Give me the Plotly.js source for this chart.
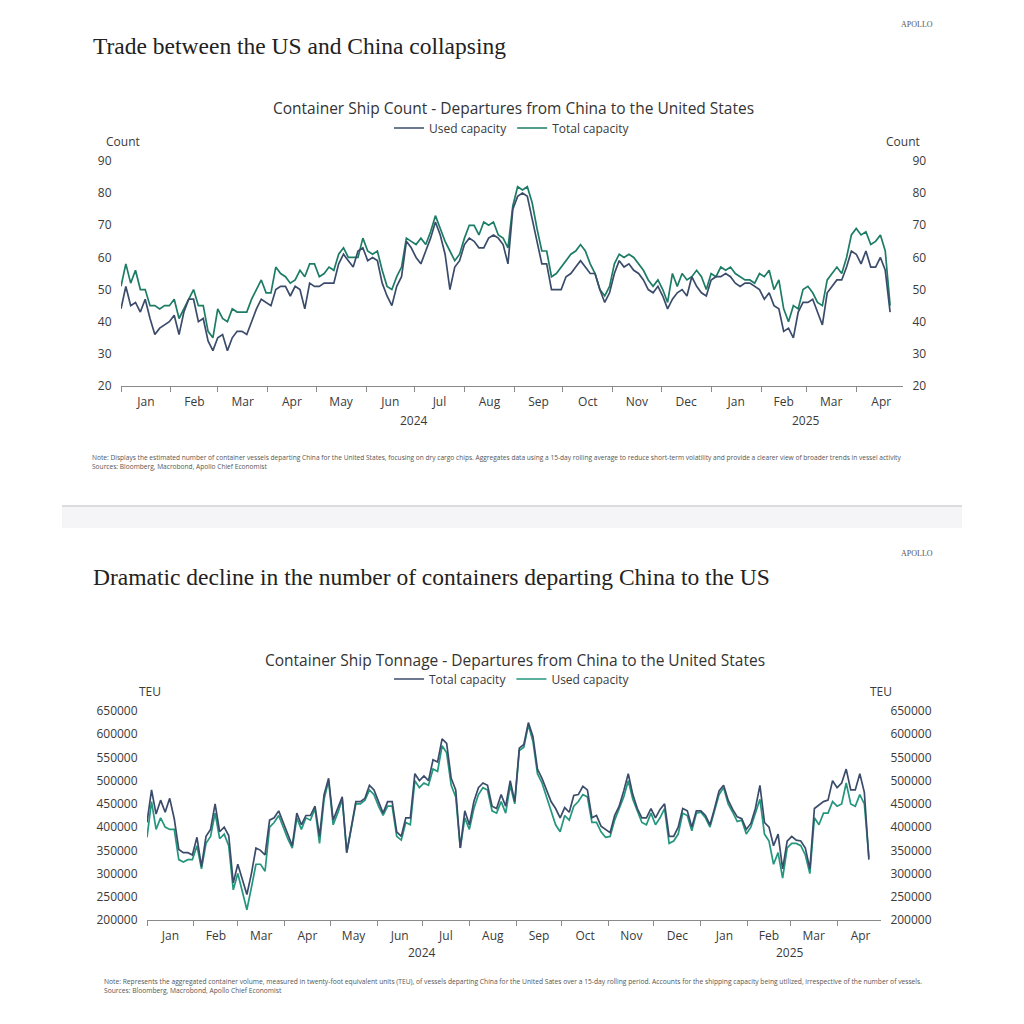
<!DOCTYPE html>
<html>
<head>
<meta charset="utf-8">
<script src="https://cdn.plot.ly/plotly-3.0.1.min.js"></script>
<style>
html,body{margin:0;padding:0;background:#fff;}
#chart{width:1024px;height:1024px;}
</style>
</head>
<body>
<div id="chart"></div>
<script>
// ---------- DATA ----------
// Both charts: one reading every 3 days, starting 2024-01-01
var seriesStart = '2024-01-01';
var stepDays = 3;

// Chart 1: Container ship count (15-day rolling)
var countUsed = [
  44,51,45,46,43,47,41,36,38,39,
  40,42,36,43,47,47,40,41,34,31,
  35,36,31,35,37,37,36,40,44,47,
  46,45,50,51,51,48,51,50,44,52,
  51,51,52,52,52,58,61,59,57,62,
  63,59,60,59,52,48,45,51,54,65,
  63,60,58,62,66,71,67,61,50,57,
  59,64,66,65,63,63,66,67,66,64,
  58,75,79,80,79,72,65,58,58,50,
  50,50,54,55,57,59,57,55,55,50,
  46,49,55,59,57,58,56,55,53,50,
  49,51,48,44,47,49,50,48,54,51,
  49,48,53,54,54,55,54,52,51,52,
  52,51,50,47,49,45,44,37,38,35,
  43,46,46,47,43,39,49,51,53,53,
  57,62,61,58,62,57,57,60,56,43
];
var countTotal = [
  51,58,52,56,50,50,45,45,44,45,
  45,47,41,44,47,50,45,45,37,35,
  44,41,40,44,43,43,43,47,50,53,
  49,49,57,55,54,52,53,56,54,58,
  58,54,55,57,56,61,63,60,60,60,
  66,62,61,62,56,51,50,54,57,66,
  65,64,66,64,68,73,69,65,62,59,
  61,66,70,70,67,71,70,71,67,66,
  63,76,82,81,82,77,69,62,62,54,
  55,57,59,61,62,64,62,58,55,50,
  48,51,58,61,60,61,60,58,56,53,
  51,53,50,46,55,51,55,53,54,56,
  54,50,55,54,57,56,57,55,54,53,
  53,52,55,54,56,50,53,44,40,45,
  44,50,51,49,46,45,53,55,57,55,
  60,67,69,67,68,64,65,67,62,45
];

// Chart 2: Container ship tonnage, thousands of TEU
var teuTotalK = [
  410,480,428,458,432,462,418,352,345,345,
  340,378,315,380,395,450,390,400,382,280,
  320,285,255,300,355,350,340,415,420,435,
  410,385,360,430,405,425,425,445,380,470,
  505,415,440,465,345,400,455,455,462,490,
  480,455,430,455,455,390,380,420,420,515,
  500,510,500,545,540,590,580,505,480,355,
  435,405,455,485,495,490,445,440,470,445,
  500,455,570,578,625,595,525,505,480,455,
  440,420,442,432,468,470,488,480,420,425,
  402,395,388,425,445,478,515,470,440,420,
  420,440,420,438,450,380,380,400,440,435,
  400,435,435,425,405,440,478,490,458,438,
  422,418,395,408,440,490,410,400,360,385,
  310,370,380,372,370,355,310,440,448,455,
  458,500,485,495,525,480,480,515,475,330
];
var teuUsedK = [
  378,455,395,420,400,395,395,330,325,330,
  330,360,310,365,380,430,375,385,360,265,
  300,260,222,270,320,320,305,400,410,425,
  400,375,355,420,395,420,415,440,365,460,
  500,405,430,460,345,395,450,450,458,480,
  470,445,425,445,445,380,372,410,405,500,
  485,495,490,525,520,575,560,490,465,355,
  420,395,440,470,485,480,435,430,455,430,
  490,450,565,572,620,585,515,495,465,440,
  405,390,425,415,445,455,470,465,410,410,
  390,378,380,415,440,465,500,460,435,410,
  405,430,405,420,440,365,370,385,430,425,
  392,430,432,420,400,435,470,485,450,432,
  412,415,385,400,430,460,385,370,320,345,
  290,355,365,365,360,340,300,420,405,430,
  430,455,445,450,495,450,445,470,450,335
];

var countTicks = [20,30,40,50,60,70,80,90];
var teuTicks = [200000,250000,300000,350000,400000,450000,500000,550000,600000,650000];
var yearLabels = ['2024','2025'];
var yearCenters = ['2024-07-01','2025-03-01'];

// ---------- BUILD ----------
function dateGrid(n){
  var out=[]; var t0=Date.parse(seriesStart+'T00:00:00Z');
  for(var i=0;i<n;i++){ out.push(new Date(t0+i*stepDays*86400000).toISOString().slice(0,10)); }
  return out;
}
var dates = dateGrid(countUsed.length);
var teuTotal = teuTotalK.map(function(v){return v*1000;});
var teuUsed = teuUsedK.map(function(v){return v*1000;});

var FONT = 'Open Sans, sans-serif';
var SERIF = 'Liberation Serif, serif';
var DARK = '#3b4c6b';
var GREEN1 = '#1c7c65';
var TEAL2 = '#23967d';
var TXT = '#3a3a3a';

var traces = [
  {x:dates, y:countTotal, name:'Total capacity', type:'scatter', mode:'lines',
   line:{color:GREEN1, width:1.7}, xaxis:'x', yaxis:'y', legend:'legend', legendrank:2},
  {x:dates, y:countUsed, name:'Used capacity', type:'scatter', mode:'lines',
   line:{color:DARK, width:1.7}, xaxis:'x', yaxis:'y3', legend:'legend', legendrank:1},
  {x:dates, y:teuUsed, name:'Used capacity', type:'scatter', mode:'lines',
   line:{color:TEAL2, width:1.7}, xaxis:'x2', yaxis:'y2', legend:'legend2', legendrank:2},
  {x:dates, y:teuTotal, name:'Total capacity', type:'scatter', mode:'lines',
   line:{color:DARK, width:1.7}, xaxis:'x2', yaxis:'y4', legend:'legend2', legendrank:1}
];

function P(px){return px/1024;}
function PY(py){return 1-py/1024;}

var xCommon = {
  type:'date', range:['2024-01-01','2025-04-30'], dtick:'M1', tick0:'2024-01-01',
  tickformat:'%b', ticklabelmode:'period', ticks:'outside', ticklen:5, tickcolor:'#8a8a8a',
  showline:true, linecolor:'#8a8a8a', linewidth:1, showgrid:false, zeroline:false,
  tickfont:{family:FONT, size:12, color:TXT}, fixedrange:true
};
function yAx(extra){
  var o = {showgrid:false, zeroline:false, showline:false, ticks:'outside', ticklen:6,
    tickcolor:'rgba(0,0,0,0)', tickfont:{family:FONT, size:12, color:TXT}, fixedrange:true};
  for(var k in extra){o[k]=extra[k];}
  return o;
}

var annotations = [
  {text:'APOLLO', x:P(935), y:PY(24), xanchor:'right', yanchor:'middle', showarrow:false,
   font:{family:SERIF, size:8, color:'#555'}, xref:'paper', yref:'paper'},
  {text:'Trade between the US and China collapsing', x:P(91), y:PY(46), xanchor:'left', yanchor:'middle',
   showarrow:false, font:{family:SERIF, size:23.5, color:'#222'}, xref:'paper', yref:'paper'},
  {text:'Container Ship Count - Departures from China to the United States', x:P(513), y:PY(108),
   xanchor:'center', yanchor:'middle', showarrow:false, font:{family:FONT, size:15.5, color:'#333'}, xref:'paper', yref:'paper'},
  {text:'Count', x:P(104), y:PY(141), xanchor:'left', yanchor:'middle', showarrow:false,
   font:{family:FONT, size:12, color:TXT}, xref:'paper', yref:'paper'},
  {text:'Count', x:P(922), y:PY(141), xanchor:'right', yanchor:'middle', showarrow:false,
   font:{family:FONT, size:12, color:TXT}, xref:'paper', yref:'paper'},
  {text:'Note: Displays the estimated number of container vessels departing China for the United States, focusing on dry cargo chips. Aggregates data using a 15-day rolling average to reduce short-term volatility and provide a clearer view of broader trends in vessel activity<br>Sources: Bloomberg, Macrobond, Apollo Chief Economist',
   x:P(90), y:PY(451), xanchor:'left', yanchor:'top', align:'left', showarrow:false,
   font:{family:FONT, size:6.6, color:'#555'}, xref:'paper', yref:'paper'},

  {text:'APOLLO', x:P(935), y:PY(553), xanchor:'right', yanchor:'middle', showarrow:false,
   font:{family:SERIF, size:8, color:'#555'}, xref:'paper', yref:'paper'},
  {text:'Dramatic decline in the number of containers departing China to the US', x:P(91), y:PY(577), xanchor:'left', yanchor:'middle',
   showarrow:false, font:{family:SERIF, size:23.5, color:'#222'}, xref:'paper', yref:'paper'},
  {text:'Container Ship Tonnage - Departures from China to the United States', x:P(515), y:PY(660),
   xanchor:'center', yanchor:'middle', showarrow:false, font:{family:FONT, size:15.5, color:'#333'}, xref:'paper', yref:'paper'},
  {text:'TEU', x:P(137), y:PY(691), xanchor:'left', yanchor:'middle', showarrow:false,
   font:{family:FONT, size:12, color:TXT}, xref:'paper', yref:'paper'},
  {text:'TEU', x:P(894), y:PY(691), xanchor:'right', yanchor:'middle', showarrow:false,
   font:{family:FONT, size:12, color:TXT}, xref:'paper', yref:'paper'},
  {text:'Note: Represents the aggregated container volume, measured in twenty-foot equivalent units (TEU), of vessels departing China for the United Sates over a 15-day rolling period. Accounts for the shipping capacity being utilized, irrespective of the number of vessels.<br>Sources: Bloomberg, Macrobond, Apollo Chief Economist',
   x:P(102), y:PY(975), xanchor:'left', yanchor:'top', align:'left', showarrow:false,
   font:{family:FONT, size:6.7, color:'#555'}, xref:'paper', yref:'paper'}
];
// year labels under the month ticks
for (var i=0;i<yearLabels.length;i++){
  annotations.push({text:yearLabels[i], x:yearCenters[i], xref:'x', y:PY(420), yref:'paper',
    showarrow:false, xanchor:'center', yanchor:'middle', font:{family:FONT, size:12, color:TXT}});
  annotations.push({text:yearLabels[i], x:yearCenters[i], xref:'x2', y:PY(952), yref:'paper',
    showarrow:false, xanchor:'center', yanchor:'middle', font:{family:FONT, size:12, color:TXT}});
}

var layout = {
  width:1024, height:1024, autosize:false,
  margin:{l:0,r:0,t:0,b:0,pad:0},
  paper_bgcolor:'#ffffff', plot_bgcolor:'rgba(0,0,0,0)',
  showlegend:true,
  legend:{orientation:'h', x:0.5, xanchor:'center', y:PY(128), yanchor:'middle',
    font:{family:FONT, size:12, color:TXT}, itemwidth:30, tracegroupgap:0, bgcolor:'rgba(0,0,0,0)', traceorder:'normal'},
  legend2:{orientation:'h', x:0.5, xanchor:'center', y:PY(679), yanchor:'middle',
    font:{family:FONT, size:12, color:TXT}, itemwidth:30, tracegroupgap:0, bgcolor:'rgba(0,0,0,0)', traceorder:'normal'},
  xaxis: Object.assign({}, xCommon, {domain:[P(121), P(903)], anchor:'y'}),
  xaxis2: Object.assign({}, xCommon, {domain:[P(147), P(881)], anchor:'y2'}),
  yaxis: yAx({domain:[PY(386), PY(161)], anchor:'x', range:[20,90], tickvals:countTicks, side:'left'}),
  yaxis3: yAx({overlaying:'y', anchor:'x', range:[20,90], tickvals:countTicks, side:'right'}),
  yaxis2: yAx({domain:[PY(920), PY(711)], anchor:'x2', range:[200000,650000], tickvals:teuTicks, tickformat:'d', side:'left'}),
  yaxis4: yAx({overlaying:'y2', anchor:'x2', range:[200000,650000], tickvals:teuTicks, tickformat:'d', side:'right'}),
  shapes:[
    {type:'rect', xref:'paper', yref:'paper', x0:P(62), x1:P(962), y0:PY(528), y1:PY(505),
     fillcolor:'#f5f5f7', line:{width:0}, layer:'below'},
    {type:'line', xref:'paper', yref:'paper', x0:P(62), x1:P(962), y0:PY(506), y1:PY(506),
     line:{color:'#dcdcde', width:2}, layer:'below'}
  ],
  annotations:annotations
};

Plotly.newPlot('chart', traces, layout, {displayModeBar:false, staticPlot:true});
</script>
</body>
</html>
